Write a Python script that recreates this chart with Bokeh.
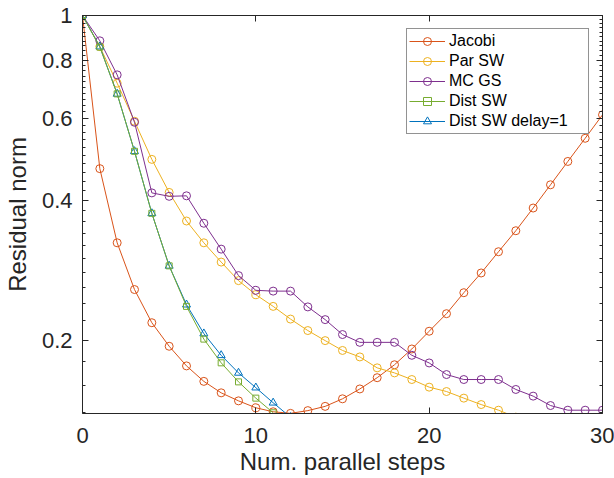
from bokeh.plotting import figure
from bokeh.models import (FixedTicker, LinearAxis, LogAxis, Range1d,
                          CustomJSTickFormatter, Legend, LegendItem)
from bokeh.embed import file_html
from bokeh.resources import INLINE

# ---- data ----
steps = list(range(0, 31))
jacobi = [1.0, 0.468, 0.324, 0.257, 0.218, 0.194, 0.176, 0.163, 0.154, 0.148,
          0.143, 0.1402, 0.1391, 0.141, 0.144, 0.1495, 0.157, 0.166, 0.177, 0.1914,
          0.209, 0.228, 0.253, 0.279, 0.310, 0.344, 0.385, 0.432, 0.485, 0.544, 0.611]
par_sw = [1.0, 0.857, 0.715, 0.592, 0.49, 0.416, 0.361, 0.324, 0.2945, 0.2686,
          0.2505, 0.2364, 0.222, 0.2097, 0.1995, 0.190, 0.184, 0.1743, 0.170, 0.1645,
          0.1584, 0.155, 0.150, 0.1453, 0.1413, 0.1365]
mc_gs = [1.0, 0.882, 0.745, 0.589, 0.415, 0.408, 0.409, 0.357, 0.314, 0.2754,
         0.256, 0.255, 0.255, 0.2358, 0.2214, 0.2056, 0.1978, 0.1978, 0.1978, 0.1855,
         0.1786, 0.1686, 0.1645, 0.1645, 0.1645, 0.1566, 0.1515, 0.1446, 0.1413, 0.1413, 0.1413]
dist_sw = [1.0, 0.855, 0.678, 0.51, 0.375, 0.289, 0.2364, 0.201, 0.1787, 0.1626,
           0.150, 0.1395]
dist_sw_d1 = [1.0, 0.857, 0.678, 0.51, 0.375, 0.289, 0.2384, 0.2066, 0.1855, 0.170,
              0.158, 0.1466, 0.1365]

x_ticks = [0, 10, 20, 30]
y_ticks = [0.2, 0.4, 0.6, 0.8, 1.0]
y_minor = [round(0.14 + 0.02 * i, 2) for i in range(44)]

# (label, values, colour, marker, size, draw order)
series = [
    ("Jacobi", jacobi, "#D95319", "circle", 8, 0),
    ("Par SW", par_sw, "#EDB120", "circle", 8, 1),
    ("MC GS", mc_gs, "#7E2F8E", "circle", 8, 2),
    ("Dist SW", dist_sw, "#77AC30", "square", 6, 4),
    ("Dist SW delay=1", dist_sw_d1, "#0072BD", "triangle", 8, 3),
]

FONT = "Liberation Sans"
AX = "#262626"

p = figure(width=614, height=478, x_range=Range1d(0, 30), y_range=Range1d(0.139, 1.0),
           y_axis_type="log", output_backend="svg", toolbar_location=None,
           min_border_left=82, min_border_right=12, min_border_top=15,
           min_border_bottom=65)
p.grid.visible = False
p.outline_line_color = None
p.background_fill_color = "white"
p.border_fill_color = "white"

bottom = p.below[0]
left = p.left[0]

item_map = {}
for name, vals, color, marker, size, order in sorted(series, key=lambda s: s[5]):
    xs = steps[:len(vals)]
    lr = p.line(xs, vals, line_color=color, line_width=1)
    sr = p.scatter(xs, vals, marker=marker, size=size, line_color=color,
                   fill_color=None, line_width=1)
    item_map[name] = LegendItem(label=name, renderers=[lr, sr])
items = [item_map[s[0]] for s in series]

fmt = CustomJSTickFormatter(code="return (Math.round(tick*100)/100).toString();")
blank = CustomJSTickFormatter(code="return '';")
xt = FixedTicker(ticks=x_ticks)
yt = FixedTicker(ticks=y_ticks, minor_ticks=y_minor)

top = LinearAxis(ticker=xt, formatter=blank)
right = LogAxis(ticker=yt, formatter=blank)
p.add_layout(top, "above")
p.add_layout(right, "right")

bottom.ticker = xt
left.ticker = yt
left.formatter = fmt

for ax in [bottom, left, top, right]:
    ax.axis_line_color = AX
    ax.axis_line_width = 1
    ax.major_tick_in = 6
    ax.major_tick_out = 0
    ax.minor_tick_in = 3
    ax.minor_tick_out = 0
    ax.major_tick_line_color = AX
    ax.minor_tick_line_color = AX
    ax.major_label_text_font = FONT
    ax.major_label_text_font_size = "22px"
    ax.major_label_text_color = AX
    ax.axis_label_text_font = FONT
    ax.axis_label_text_font_size = "24px"
    ax.axis_label_text_font_style = "normal"
    ax.axis_label_text_color = AX

for ax in [top, right]:
    ax.major_label_text_font_size = "1px"
    ax.major_label_standoff = 0

bottom.axis_label = "Num. parallel steps"
left.axis_label = "Residual norm"
bottom.major_label_standoff = 14
bottom.axis_label_standoff = 2
left.major_label_standoff = 10
left.axis_label_standoff = 8

legend = Legend(items=items, location="top_right")
legend.label_text_font = FONT
legend.label_text_font_size = "16px"
legend.label_text_color = "black"
legend.border_line_color = AX
legend.border_line_width = 1
legend.background_fill_color = "white"
legend.background_fill_alpha = 1
legend.margin = 13
legend.padding = 2
legend.spacing = 0
legend.glyph_height = 20
legend.glyph_width = 36
legend.label_height = 20
legend.label_standoff = 4
legend.label_width = 137
p.add_layout(legend)

open("out.html", "w").write(file_html(p, INLINE))
